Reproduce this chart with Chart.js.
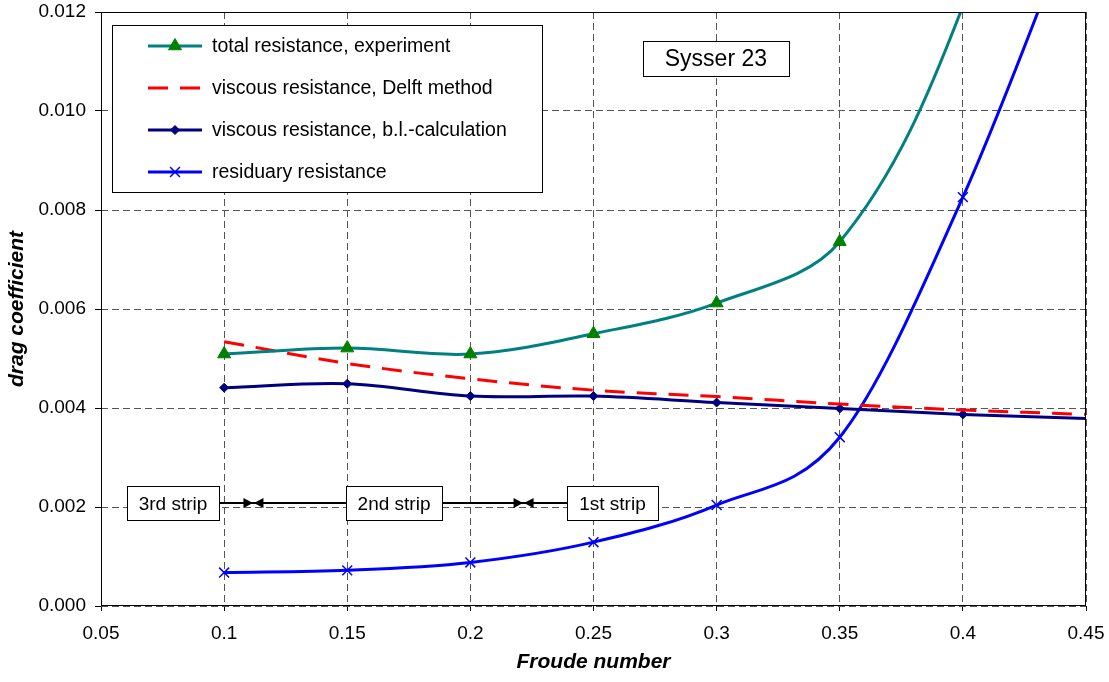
<!DOCTYPE html>
<html><head><meta charset="utf-8">
<script src="https://cdn.jsdelivr.net/npm/chart.js@4/dist/chart.umd.min.js"></script>
<style>html,body{margin:0;padding:0;background:#fff}#wrap{width:1109px;height:682px}</style>
</head><body><div id="wrap"><canvas id="c" width="1109" height="682"></canvas></div>
<script>
// ---- data ----
const froude      = [0.1, 0.15, 0.2, 0.25, 0.3, 0.35, 0.4, 0.45];
const totalExp    = [0.00509, 0.00521, 0.00509, 0.00550, 0.00612, 0.00736, 0.01212, 0.0203];
const viscDelft   = [0.00534, 0.00490, 0.00459, 0.00436, 0.00423, 0.00408, 0.00396, 0.00387];
const viscBL      = [0.00441, 0.00449, 0.00424, 0.00424, 0.00411, 0.00399, 0.00387, 0.00379];
const residual    = [0.000675, 0.00072, 0.00088, 0.00129, 0.00204, 0.00341, 0.00826, 0.0145];
const markerShown = [1, 1, 1, 1, 1, 1, 1, 0];
const xTicks = [0.05, 0.1, 0.15, 0.2, 0.25, 0.3, 0.35, 0.4, 0.45];
const yTicks = [0, 0.002, 0.004, 0.006, 0.008, 0.010, 0.012];
const seriesNames = ['total resistance, experiment', 'viscous resistance, Delft method',
                     'viscous resistance, b.l.-calculation', 'residuary resistance'];
const xTitle = 'Froude number';
const yTitle = 'drag coefficient';
const boxTitle = 'Sysser 23';
const stripLabels = ['3rd strip', '2nd strip', '1st strip'];

// ---- styling / layout ----
const FONT = '"Liberation Sans", Arial, sans-serif';
const stripX = [0.07924, 0.1690, 0.2577];   // box centres (x data units)
const stripBowtie = [0.1119, 0.2216];        // arrow meeting points
const stripY = 0.00208;
const titleBoxPos = {x: 0.2997, y: 0.01106};

function pts(data) { return data.map((v, i) => ({x: froude[i], y: v})); }
function radii(r) { return markerShown.map(m => m ? r : 0); }

function drawMarker(ctx, style, x, y, r, color, bw) {
  ctx.save();
  ctx.fillStyle = color; ctx.strokeStyle = color; ctx.lineWidth = bw; ctx.setLineDash([]);
  ctx.beginPath();
  if (style === 'triangle') {
    for (let k = 0; k < 3; k++) {
      const a = -Math.PI / 2 + k * 2 * Math.PI / 3;
      const px = x + Math.cos(a) * r, py = y + Math.sin(a) * r;
      k ? ctx.lineTo(px, py) : ctx.moveTo(px, py);
    }
    ctx.closePath(); ctx.fill(); ctx.stroke();
  } else if (style === 'rectRot') {
    ctx.moveTo(x, y - r); ctx.lineTo(x + r, y); ctx.lineTo(x, y + r); ctx.lineTo(x - r, y);
    ctx.closePath(); ctx.fill(); ctx.stroke();
  } else if (style === 'crossRot') {
    const d = r * Math.SQRT1_2;
    ctx.moveTo(x - d, y - d); ctx.lineTo(x + d, y + d);
    ctx.moveTo(x + d, y - d); ctx.lineTo(x - d, y + d);
    ctx.stroke();
  }
  ctx.restore();
}

const overlay = {
  id: 'overlay',
  afterDatasetsDraw(chart) {
    const {ctx, chartArea: a, scales: {x, y}} = chart;
    ctx.save();
    // plot frame
    ctx.setLineDash([]);
    ctx.strokeStyle = '#000'; ctx.lineWidth = 1;
    ctx.strokeRect(Math.round(a.left) + 0.5, Math.round(a.top) + 0.5,
                   Math.round(a.right - a.left) - 1, Math.round(a.bottom - a.top) - 1);

    // legend box
    const L = {x: 112.5, y: 25.5, w: 430, h: 167};
    ctx.fillStyle = '#fff'; ctx.fillRect(L.x, L.y, L.w, L.h);
    ctx.strokeRect(L.x, L.y, L.w, L.h);
    const rowsY = [46, 88, 130, 172];
    chart.data.datasets.forEach((ds, i) => {
      const yy = rowsY[i];
      ctx.save();
      ctx.strokeStyle = ds.borderColor; ctx.lineWidth = ds.borderWidth;
      ctx.setLineDash(ds.borderDash || []);
      ctx.beginPath(); ctx.moveTo(148, yy); ctx.lineTo(202, yy); ctx.stroke();
      ctx.restore();
      if (ds.pointStyle) drawMarker(ctx, ds.pointStyle, 175, yy, ds.legendRadius, ds.pointBorderColor, ds.pointBorderWidth);
      ctx.fillStyle = '#000'; ctx.font = '19.5px ' + FONT;
      ctx.textBaseline = 'middle'; ctx.textAlign = 'left';
      ctx.fillText(seriesNames[i], 212, yy + 1);
    });

    // title box
    ctx.font = '23px ' + FONT; ctx.textAlign = 'center'; ctx.textBaseline = 'middle';
    const tx = x.getPixelForValue(titleBoxPos.x), ty = y.getPixelForValue(titleBoxPos.y);
    const tby = Math.round(ty - 17.5) + 0.5;
    ctx.fillStyle = '#fff'; ctx.fillRect(643.5, tby, 146, 35);
    ctx.strokeStyle = '#000'; ctx.lineWidth = 1; ctx.strokeRect(643.5, tby, 146, 35);
    ctx.fillStyle = '#000'; ctx.fillText(boxTitle, tx, ty + 1);

    // strips
    const sy = Math.round(y.getPixelForValue(stripY)) + 0.5;
    ctx.font = '19px ' + FONT;
    const boxes = stripLabels.map((t, i) => {
      const cx = x.getPixelForValue(stripX[i]);
      const w = ctx.measureText(t).width + 24;
      return {t, cx, l: Math.round(cx - w / 2) + 0.5, r: Math.round(cx + w / 2) + 0.5};
    });
    ctx.strokeStyle = '#000'; ctx.lineWidth = 2;
    for (let i = 0; i < 2; i++) {
      ctx.beginPath(); ctx.moveTo(boxes[i].r, sy - 0.5); ctx.lineTo(boxes[i + 1].l, sy - 0.5); ctx.stroke();
      const bx = x.getPixelForValue(stripBowtie[i]);
      ctx.fillStyle = '#000';
      ctx.beginPath(); ctx.moveTo(bx - 10, sy - 5.5); ctx.lineTo(bx - 0.5, sy - 0.5); ctx.lineTo(bx - 10, sy + 4.5); ctx.closePath(); ctx.fill();
      ctx.beginPath(); ctx.moveTo(bx + 10, sy - 5.5); ctx.lineTo(bx + 0.5, sy - 0.5); ctx.lineTo(bx + 10, sy + 4.5); ctx.closePath(); ctx.fill();
    }
    ctx.lineWidth = 1;
    boxes.forEach(b => {
      ctx.fillStyle = '#fff'; ctx.fillRect(b.l, sy - 17, b.r - b.l, 34);
      ctx.strokeStyle = '#000'; ctx.strokeRect(b.l, sy - 17, b.r - b.l, 34);
      ctx.fillStyle = '#000'; ctx.textAlign = 'center'; ctx.textBaseline = 'middle';
      ctx.fillText(b.t, b.cx, sy + 1);
    });
    ctx.restore();
  }
};

const tickFont = {family: FONT, size: 19};
new Chart(document.getElementById('c'), {
  type: 'line',
  data: {
    datasets: [
      {label: seriesNames[0], data: pts(totalExp), borderColor: '#008080', borderWidth: 3,
       pointStyle: 'triangle', pointRadius: radii(7.5), legendRadius: 7.5, pointBackgroundColor: '#008000',
       pointBorderColor: '#008000', pointBorderWidth: 1, tension: 0.35},
      {label: seriesNames[1], data: pts(viscDelft), borderColor: '#FF0000', borderWidth: 3,
       borderDash: [20, 12], pointRadius: 0, tension: 0.35},
      {label: seriesNames[2], data: pts(viscBL), borderColor: '#000080', borderWidth: 3,
       pointStyle: 'rectRot', pointRadius: radii(4.5), legendRadius: 4.5, pointBackgroundColor: '#000080',
       pointBorderColor: '#000080', pointBorderWidth: 1, tension: 0.35},
      {label: seriesNames[3], data: pts(residual), borderColor: '#0000FF', borderWidth: 3,
       pointStyle: 'crossRot', pointRadius: radii(7), legendRadius: 7, pointBackgroundColor: '#0000FF',
       pointBorderColor: '#0000FF', pointBorderWidth: 1.5, cubicInterpolationMode: 'monotone'}
    ]
  },
  options: {
    responsive: false, animation: false, devicePixelRatio: 1,
    layout: {padding: {left: 0, top: 12, right: 23, bottom: 0}},
    elements: {line: {capBezierPoints: false}, point: {hoverRadius: 0}},
    datasets: {line: {clip: 0}},
    plugins: {legend: {display: false}, tooltip: {enabled: false}},
    scales: {
      x: {
        type: 'linear', min: 0.05, max: 0.45,
        afterBuildTicks: s => { s.ticks = xTicks.map(v => ({value: v})); },
        afterFit: s => { s.height = 76; s.paddingLeft = 0; s.paddingRight = 0; },
        ticks: {font: tickFont, color: '#000', padding: 11, maxRotation: 0, autoSkip: false,
                callback: v => String(v)},
        grid: {color: '#555', lineWidth: 1, tickLength: 5, tickColor: '#000', tickWidth: 1},
        border: {display: false, dash: [7, 4]},
        title: {display: true, text: xTitle, color: '#000',
                font: {family: FONT, size: 21, weight: 'bold', style: 'italic'}, padding: {top: 0, bottom: 7}}
      },
      y: {
        type: 'linear', min: 0, max: 0.012,
        afterBuildTicks: s => { s.ticks = yTicks.map(v => ({value: v})); },
        afterFit: s => { s.width = 101; s.paddingTop = 0; s.paddingBottom = 0; },
        ticks: {font: tickFont, color: '#000', padding: 9, callback: v => v.toFixed(3)},
        grid: {color: '#555', lineWidth: 1, tickLength: 6, tickColor: '#000', tickWidth: 1},
        border: {display: false, dash: [7, 4]},
        title: {display: true, text: yTitle, color: '#000',
                font: {family: FONT, size: 21, weight: 'bold', style: 'italic'}, padding: {top: 5, bottom: 0}}
      }
    }
  },
  plugins: [overlay]
});
</script>
</body></html>
